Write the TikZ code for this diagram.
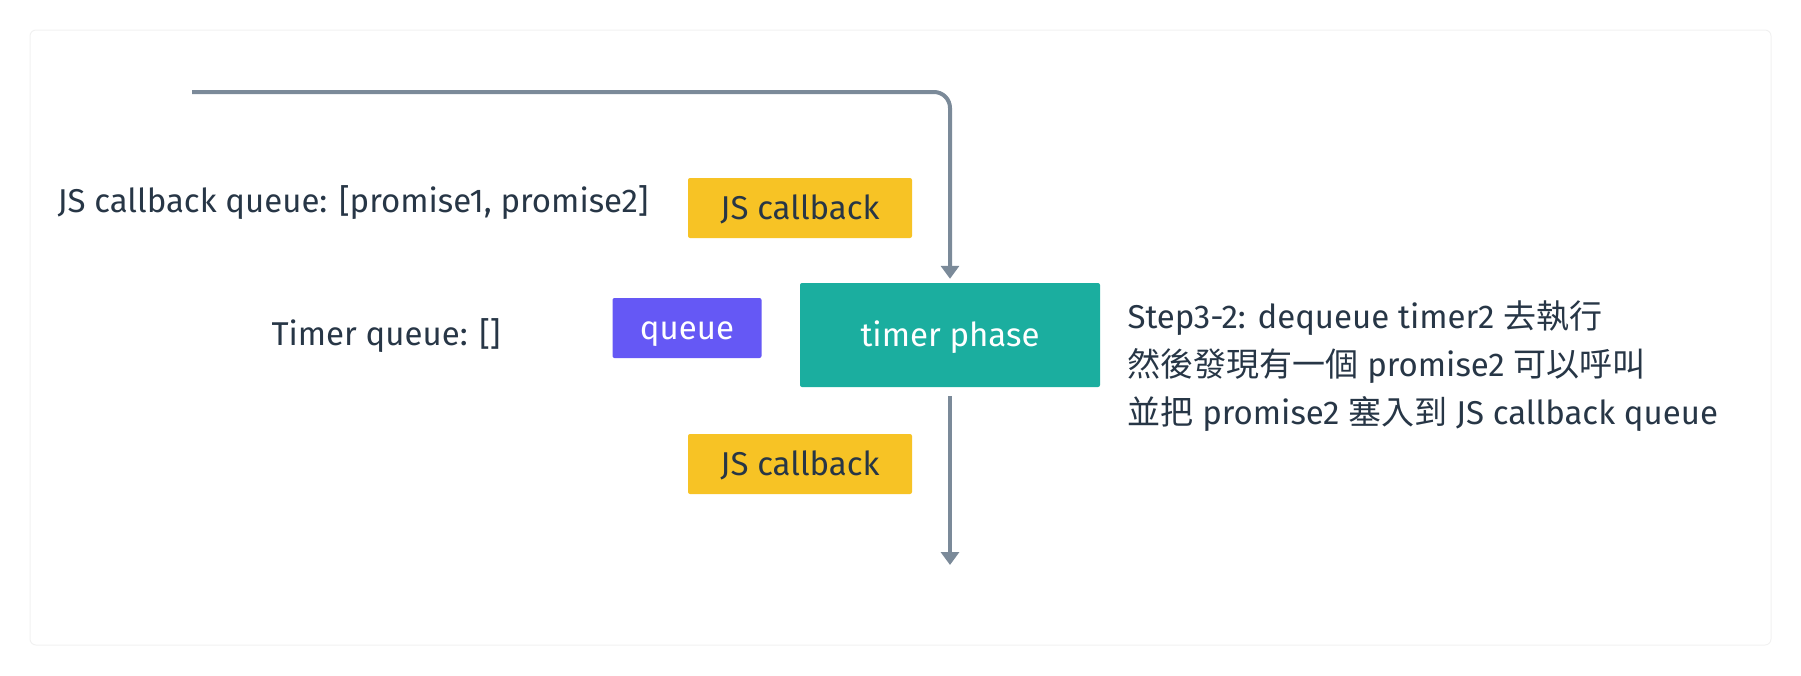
\documentclass[tikz,border=0pt]{standalone}
\usepackage{fontspec}
\setmainfont{Fira Sans}
\newfontfamily\cjk{Noto Sans CJK TC}
\usetikzlibrary{arrows.meta}
\definecolor{cbyellow}{HTML}{F7C325}
\definecolor{phaseteal}{HTML}{1BAE9F}
\definecolor{queuepurple}{HTML}{6558F5}
\definecolor{flowgray}{HTML}{7B8A99}
\definecolor{inkdark}{HTML}{273646}
\definecolor{framegray}{HTML}{F1F1F1}
\begin{document}
\begin{tikzpicture}[x=1pt, y=-1pt,
    every node/.style={font=\fontsize{33}{48}\selectfont, text=inkdark},
    box/.style={rectangle, rounded corners=2pt, inner sep=0pt, align=center, text height=25pt, text depth=3pt},
    cbbox/.style={box, fill=cbyellow, minimum width=224pt, minimum height=60pt},
    flow/.style={draw=flowgray, line width=4pt, rounded corners=16pt},
    tip/.style={-{Triangle[width=18pt, length=13pt]}}]
    \useasboundingbox (0,0) rectangle (1801,675);
    \draw[framegray, line width=1pt, rounded corners=6pt] (30,30) rectangle (1771,645);

    % Objects
    \node[cbbox] (cbtop) at (800,208) {JS callback};
    \node[box, fill=phaseteal, minimum width=300pt, minimum height=104pt, text=white] (timer) at (950,335) {timer phase};
    \node[box, fill=queuepurple, minimum width=149pt, minimum height=60pt, text=white] (queue) at (687,328) {queue};
    \node[cbbox] (cbbottom) at (800,464) {JS callback};

    % Labels
    \node[anchor=west] (cbqueue) at (54,203) {JS callback queue: [promise1, promise2]};
    \node[anchor=west] (timerqueue) at (268,336) {Timer queue: []};
    \node[anchor=west, align=left] (step) at (1124,366) {Step3-2: dequeue timer2 {\cjk 去執行}\\
        {\cjk 然後發現有一個} promise2 {\cjk 可以呼叫}\\
        {\cjk 並把} promise2 {\cjk 塞入到} JS callback queue};

    % Links
    \coordinate (entry) at (192,92);
    \coordinate (exit) at (950,565);
    \draw[flow, tip, shorten >=4pt] (entry) -- (timer.north |- entry) -- (timer.north);
    \draw[flow, tip, shorten <=9pt] (timer.south) -- (exit);
\end{tikzpicture}
\end{document}
